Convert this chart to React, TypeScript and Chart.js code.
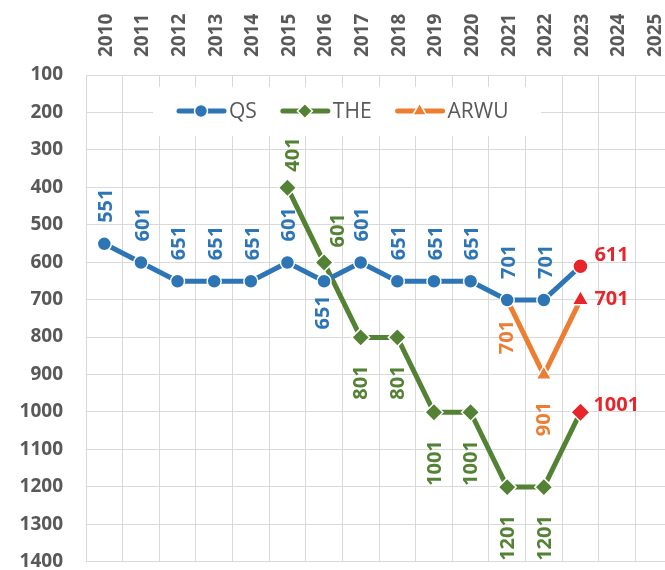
import React, { useEffect, useRef } from 'react';
import { Chart, registerables } from 'chart.js';

Chart.register(...registerables);

// ---- data ----
const years = ['2010', '2011', '2012', '2013', '2014', '2015', '2016', '2017', '2018', '2019', '2020', '2021', '2022', '2023', '2024', '2025'];
const qsRanks = [551, 601, 651, 651, 651, 601, 651, 601, 651, 651, 651, 701, 701, 611, null, null];
const theRanks = [null, null, null, null, null, 401, 601, 801, 801, 1001, 1001, 1201, 1201, 1001, null, null];
const arwuRanks = [null, null, null, null, null, null, null, null, null, null, null, 701, 901, 701, null, null];
const seriesNames = ['QS', 'THE', 'ARWU'];
const rankMin = 100;
const rankMax = 1400;
const rankStep = 100;
const latestIndex = 13;

// ---- styles ----
const seriesColors = ['#2E75B6', '#548235', '#ED7D31'];
const seriesStyles = ['circle', 'rectRot', 'triangle'];
const seriesRadius = [7, 9, 9];
const latestRadius = [7.5, 9.5, 9.5];
const highlightColor = '#E7262B';
const gridColor = '#D9D9D9';
const textGrey = '#595959';
const FONT = "'Open Sans', 'DejaVu Sans', sans-serif";

// label placement per point (style only)
const labelSides = [
  ['up', 'up', 'up', 'up', 'up', 'up', 'down', 'up', 'up', 'up', 'up', 'up', 'up', 'right', '', ''],
  ['', '', '', '', '', 'up', 'upright', 'down', 'down', 'down', 'down', 'down', 'down', 'right', '', ''],
  ['', '', '', '', '', '', '', '', '', '', '', 'down', 'down2', 'right', '', ''],
];
const labelOffsets: Record<string, number[]>[] = [
  { up: [2, 21], down: [-1, 14], right: [14, -11] },
  { up: [6, 16], upright: [14, 15], down: [1, 28], right: [13, -7] },
  { down: [0, 20], down2: [0, 27], right: [14, -1] },
];

function drawMarker(ctx: CanvasRenderingContext2D, style: string, x: number, y: number, r: number, fill: string) {
  ctx.beginPath();
  if (style === 'circle') {
    ctx.arc(x, y, r, 0, Math.PI * 2);
  } else if (style === 'rectRot') {
    ctx.moveTo(x, y - r);
    ctx.lineTo(x + r, y);
    ctx.lineTo(x, y + r);
    ctx.lineTo(x - r, y);
    ctx.closePath();
  } else {
    let a = 0;
    ctx.moveTo(x + Math.sin(a) * r, y - Math.cos(a) * r);
    a += (Math.PI * 2) / 3;
    ctx.lineTo(x + Math.sin(a) * r, y - Math.cos(a) * r);
    a += (Math.PI * 2) / 3;
    ctx.lineTo(x + Math.sin(a) * r, y - Math.cos(a) * r);
    ctx.closePath();
  }
  ctx.fillStyle = fill;
  ctx.fill();
  ctx.lineWidth = 1.5;
  ctx.strokeStyle = '#ffffff';
  ctx.stroke();
}

// category labels on top axis, rotated, drawn at the x scale's tick pixels
const topAxisLabelPlugin = {
  id: 'topAxisLabels',
  afterDraw(chart: any) {
    const ctx: CanvasRenderingContext2D = chart.ctx;
    const xs = chart.scales.x;
    const labels = chart.data.labels as string[];
    ctx.save();
    ctx.font = `bold 19px ${FONT}`;
    ctx.fillStyle = textGrey;
    ctx.textAlign = 'left';
    ctx.textBaseline = 'middle';
    labels.forEach((lab, i) => {
      const px = xs.getPixelForTick(i);
      ctx.save();
      ctx.translate(px + 2, chart.chartArea.top - 18);
      ctx.rotate(-Math.PI / 2);
      ctx.fillText(lab, 0, 0);
      ctx.restore();
    });
    ctx.restore();
  },
};

const valueLabelPlugin = {
  id: 'valueLabels',
  afterDatasetsDraw(chart: any) {
    const ctx: CanvasRenderingContext2D = chart.ctx;
    ctx.save();
    ctx.font = `bold 20px ${FONT}`;
    chart.data.datasets.forEach((ds: any, i: number) => {
      const meta = chart.getDatasetMeta(i);
      meta.data.forEach((el: any, j: number) => {
        const v = ds.data[j];
        if (v == null) return;
        const side = labelSides[i][j];
        const off = labelOffsets[i][side];
        if (!off) return;
        const [dx, d] = off;
        ctx.fillStyle = j === latestIndex ? highlightColor : seriesColors[i];
        const text = String(v);
        if (side === 'right') {
          ctx.textAlign = 'left';
          ctx.textBaseline = 'middle';
          ctx.fillText(text, el.x + dx, el.y + d);
        } else {
          const up = side.startsWith('up');
          ctx.save();
          ctx.translate(el.x + dx, up ? el.y - d : el.y + d);
          ctx.rotate(-Math.PI / 2);
          ctx.textAlign = up ? 'left' : 'right';
          ctx.textBaseline = 'middle';
          ctx.fillText(text, 0, 0);
          ctx.restore();
        }
      });
    });
    ctx.restore();
  },
};

const insideLegendPlugin = {
  id: 'insideLegend',
  afterDraw(chart: any) {
    const ctx: CanvasRenderingContext2D = chart.ctx;
    const { left, top } = chart.chartArea;
    ctx.save();
    ctx.fillStyle = '#ffffff';
    ctx.fillRect(left + 67, top + 12, 388, 49);
    const cy = top + 36;
    ctx.font = `21px ${FONT}`;
    ctx.textBaseline = 'middle';
    ctx.textAlign = 'left';
    let x = left + 91;
    const markerR = [6.5, 7.5, 8];
    seriesNames.forEach((name, i) => {
      ctx.strokeStyle = seriesColors[i];
      ctx.lineWidth = 5;
      ctx.lineCap = 'round';
      ctx.beginPath();
      ctx.moveTo(x + 2, cy);
      ctx.lineTo(x + 47, cy);
      ctx.stroke();
      drawMarker(ctx, seriesStyles[i], x + 24, cy, markerR[i], seriesColors[i]);
      ctx.fillStyle = textGrey;
      ctx.fillText(name, x + 52, cy + 1);
      const w = ctx.measureText(name).width;
      x = x + 52 + w + 24;
    });
    ctx.restore();
  },
};

export default function App() {
  const canvasRef = useRef<HTMLCanvasElement | null>(null);

  useEffect(() => {
    const canvas = canvasRef.current;
    if (!canvas) return;
    const mk = (vals: (number | null)[], i: number) => ({
      label: seriesNames[i],
      data: vals,
      borderColor: seriesColors[i],
      backgroundColor: seriesColors[i],
      borderWidth: 5,
      borderJoinStyle: 'round' as const,
      borderCapStyle: 'round' as const,
      pointStyle: seriesStyles[i],
      pointRadius: vals.map((_, j) => (j === latestIndex ? latestRadius[i] : seriesRadius[i])),
      pointBackgroundColor: vals.map((_, j) => (j === latestIndex ? highlightColor : seriesColors[i])),
      pointBorderColor: '#ffffff',
      pointBorderWidth: 1.5,
      spanGaps: false,
      tension: 0,
    });
    const chart = new Chart(canvas, {
      type: 'line',
      data: {
        labels: years,
        datasets: [mk(qsRanks, 0), mk(theRanks, 1), mk(arwuRanks, 2)],
      },
      options: {
        responsive: false,
        animation: false,
        devicePixelRatio: 1,
        layout: { padding: { left: 0, right: 18, top: 0, bottom: 0 } },
        plugins: {
          legend: { display: false },
          tooltip: { enabled: false },
        },
        scales: {
          x: {
            position: 'top',
            offset: true,
            grid: { offset: true, color: gridColor, drawTicks: false, lineWidth: 1 },
            border: { display: false },
            ticks: { display: false, autoSkip: false },
            afterFit: (s: any) => {
              s.height = 75;
            },
          },
          y: {
            reverse: true,
            min: rankMin,
            max: rankMax,
            ticks: {
              stepSize: rankStep,
              padding: 23,
              color: textGrey,
              font: { family: FONT, weight: 'bold', size: 19 },
              callback: (v: any) => String(v),
            },
            grid: { color: gridColor, drawTicks: false, lineWidth: 1 },
            border: { display: false },
            afterFit: (s: any) => {
              s.width = 86;
            },
          },
        },
      } as any,
      plugins: [valueLabelPlugin, insideLegendPlugin, topAxisLabelPlugin],
    });
    return () => chart.destroy();
  }, []);

  return (
    <div style={{ position: 'fixed', left: 0, top: 0, width: 665, height: 570, overflow: 'hidden', background: '#ffffff' }}>
      <canvas ref={canvasRef} width={690} height={596} style={{ display: 'block', width: 690, height: 596 }} />
    </div>
  );
}
